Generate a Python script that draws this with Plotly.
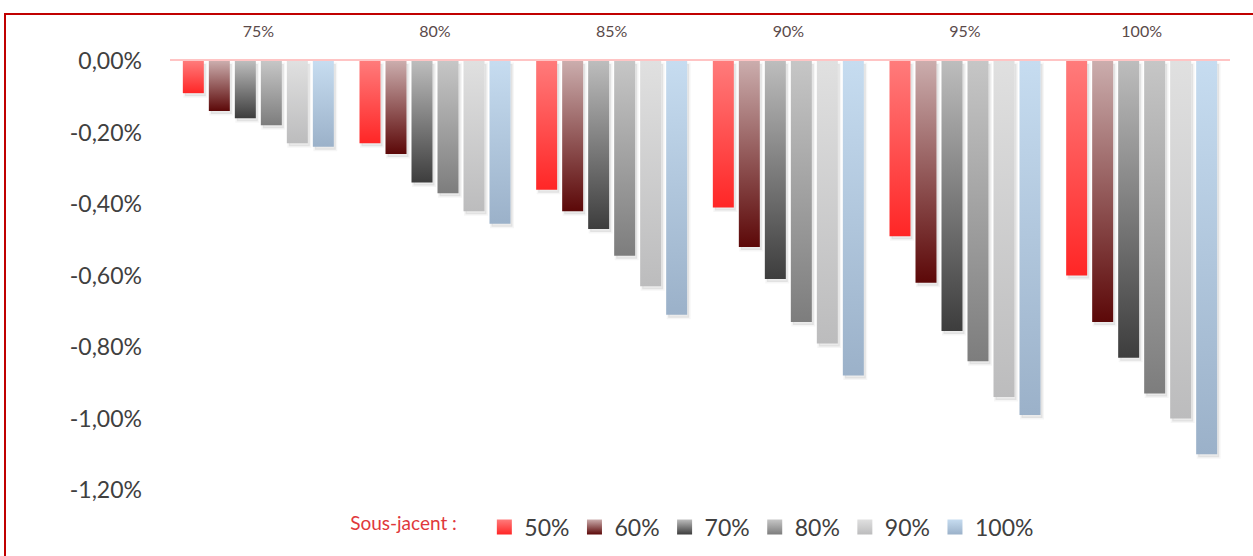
import plotly.graph_objects as go

# ---------------- data ----------------
categories = ["75%", "80%", "85%", "90%", "95%", "100%"]
series_names = ["50%", "60%", "70%", "80%", "90%", "100%"]
s50 = [-0.09, -0.23, -0.36, -0.41, -0.49, -0.60]
s60 = [-0.14, -0.26, -0.42, -0.52, -0.62, -0.73]
s70 = [-0.16, -0.34, -0.47, -0.61, -0.755, -0.83]
s80 = [-0.18, -0.37, -0.545, -0.73, -0.84, -0.93]
s90 = [-0.23, -0.42, -0.63, -0.79, -0.94, -1.00]
s100 = [-0.24, -0.455, -0.71, -0.88, -0.99, -1.10]
series_values = [s50, s60, s70, s80, s90, s100]
y_ticks = [0, -0.2, -0.4, -0.6, -0.8, -1.0, -1.2]
y_tick_labels = [f"{t:.2f}%".replace(".", ",") for t in y_ticks]

# ---------------- styles ----------------
top_colors = ["#ff7b7b", "#cbadad", "#bdbdbd", "#c6c6c6", "#e0e0e0", "#c6dcf0"]
bottom_colors = ["#ff2626", "#5c0808", "#3d3d3d", "#7d7d7d", "#bcbcbd", "#9bb1c9"]
FONT = "Lato, 'Open Sans', sans-serif"

W, H = 1253, 556
ML, MR, MT, MB = 170, 23, 61, 66
PW, PH = W - ML - MR, H - MT - MB
n_groups = len(categories)
px_per_x = PW / n_groups
YMIN, YMAX = -1.2, 0
px_per_y = PH / (YMAX - YMIN)

PITCH = 26 / px_per_x       # distance between bars inside a group (x units)
HALF = 10.5 / px_per_x      # half bar width
SDX, SDY = 2 / px_per_x, 3 / px_per_y  # shadow offset

fig = go.Figure()

# soft shadows
for j, vals in enumerate(series_values):
    for i, v in enumerate(vals):
        xc = i + (j - (len(series_values) - 1) / 2) * PITCH
        fig.add_trace(go.Scatter(
            x=[xc - HALF + SDX, xc + HALF + SDX, xc + HALF + SDX, xc - HALF + SDX, xc - HALF + SDX],
            y=[-SDY, -SDY, v - SDY, v - SDY, -SDY],
            mode="lines", fill="toself", fillcolor="rgba(0,0,0,0.08)",
            line=dict(color="rgba(0,0,0,0.035)", width=3),
            hoverinfo="skip", showlegend=False))

# bars with vertical gradient
for j, (name, vals) in enumerate(zip(series_names, series_values)):
    for i, v in enumerate(vals):
        xc = i + (j - (len(series_values) - 1) / 2) * PITCH
        fig.add_trace(go.Scatter(
            x=[xc - HALF, xc + HALF, xc + HALF, xc - HALF, xc - HALF],
            y=[0, 0, v, v, 0],
            mode="lines", fill="toself",
            fillgradient=dict(type="vertical",
                              colorscale=[[0, bottom_colors[j]], [1, top_colors[j]]]),
            line=dict(width=0),
            name=name, legendgroup=name, showlegend=False,
            hoveron="fills",
            text=f"Sous-jacent {name} – {categories[i]} : {v:.2f}%".replace(".", ","),
            hoverinfo="text"))

# legend entries
for j, name in enumerate(series_names):
    fig.add_trace(go.Scatter(
        x=[None], y=[None], mode="markers", name=name, legendgroup=name,
        marker=dict(symbol="square", size=15, color=top_colors[j],
                    gradient=dict(type="vertical", color=bottom_colors[j]),
                    line=dict(width=0))))

# frame (red border, cut by the picture edges)
fig.add_shape(type="rect", xref="paper", yref="paper",
              x0=(5 - ML) / PW, x1=(W + 40 - ML) / PW,
              y0=-(MB + 40) / PH, y1=1 + (MT - 14) / PH,
              line=dict(color="#c00000", width=2), fillcolor="rgba(0,0,0,0)", layer="below")

fig.update_layout(
    width=W, height=H,
    margin=dict(l=ML, r=MR, t=MT, b=MB, autoexpand=False),
    paper_bgcolor="white", plot_bgcolor="white",
    font=dict(family=FONT, color="#404040"),
    showlegend=True,
    legend=dict(orientation="h", x=0.494, xanchor="center", y=(PH - (527 - MT)) / PH,
                yanchor="middle",
                title=dict(text="Sous-jacent :\u00a0\u00a0\u00a0\u00a0", side="left",
                           font=dict(size=19, color="#e0383b", family=FONT)),
                font=dict(size=23, color="#404040", family=FONT),
                itemclick=False, itemdoubleclick=False, tracegroupgap=0),
    xaxis=dict(range=[-0.5, n_groups - 0.5], tickvals=list(range(n_groups)),
               ticktext=categories, side="top", showgrid=False, zeroline=False,
               showline=True, linecolor="#ffc4c4", linewidth=2,
               ticks="outside", ticklen=16, tickcolor="rgba(0,0,0,0)",
               tickfont=dict(size=16, color="#5a4a4a", family=FONT), fixedrange=True),
    yaxis=dict(range=[YMIN, YMAX], tickmode="array", tickvals=y_ticks, ticktext=y_tick_labels,
               showgrid=False, zeroline=False, showline=False,
               ticks="", ticklabelstandoff=27,
               tickfont=dict(size=23, color="#404040", family=FONT), fixedrange=True),
)

fig.write_html("out.html")
